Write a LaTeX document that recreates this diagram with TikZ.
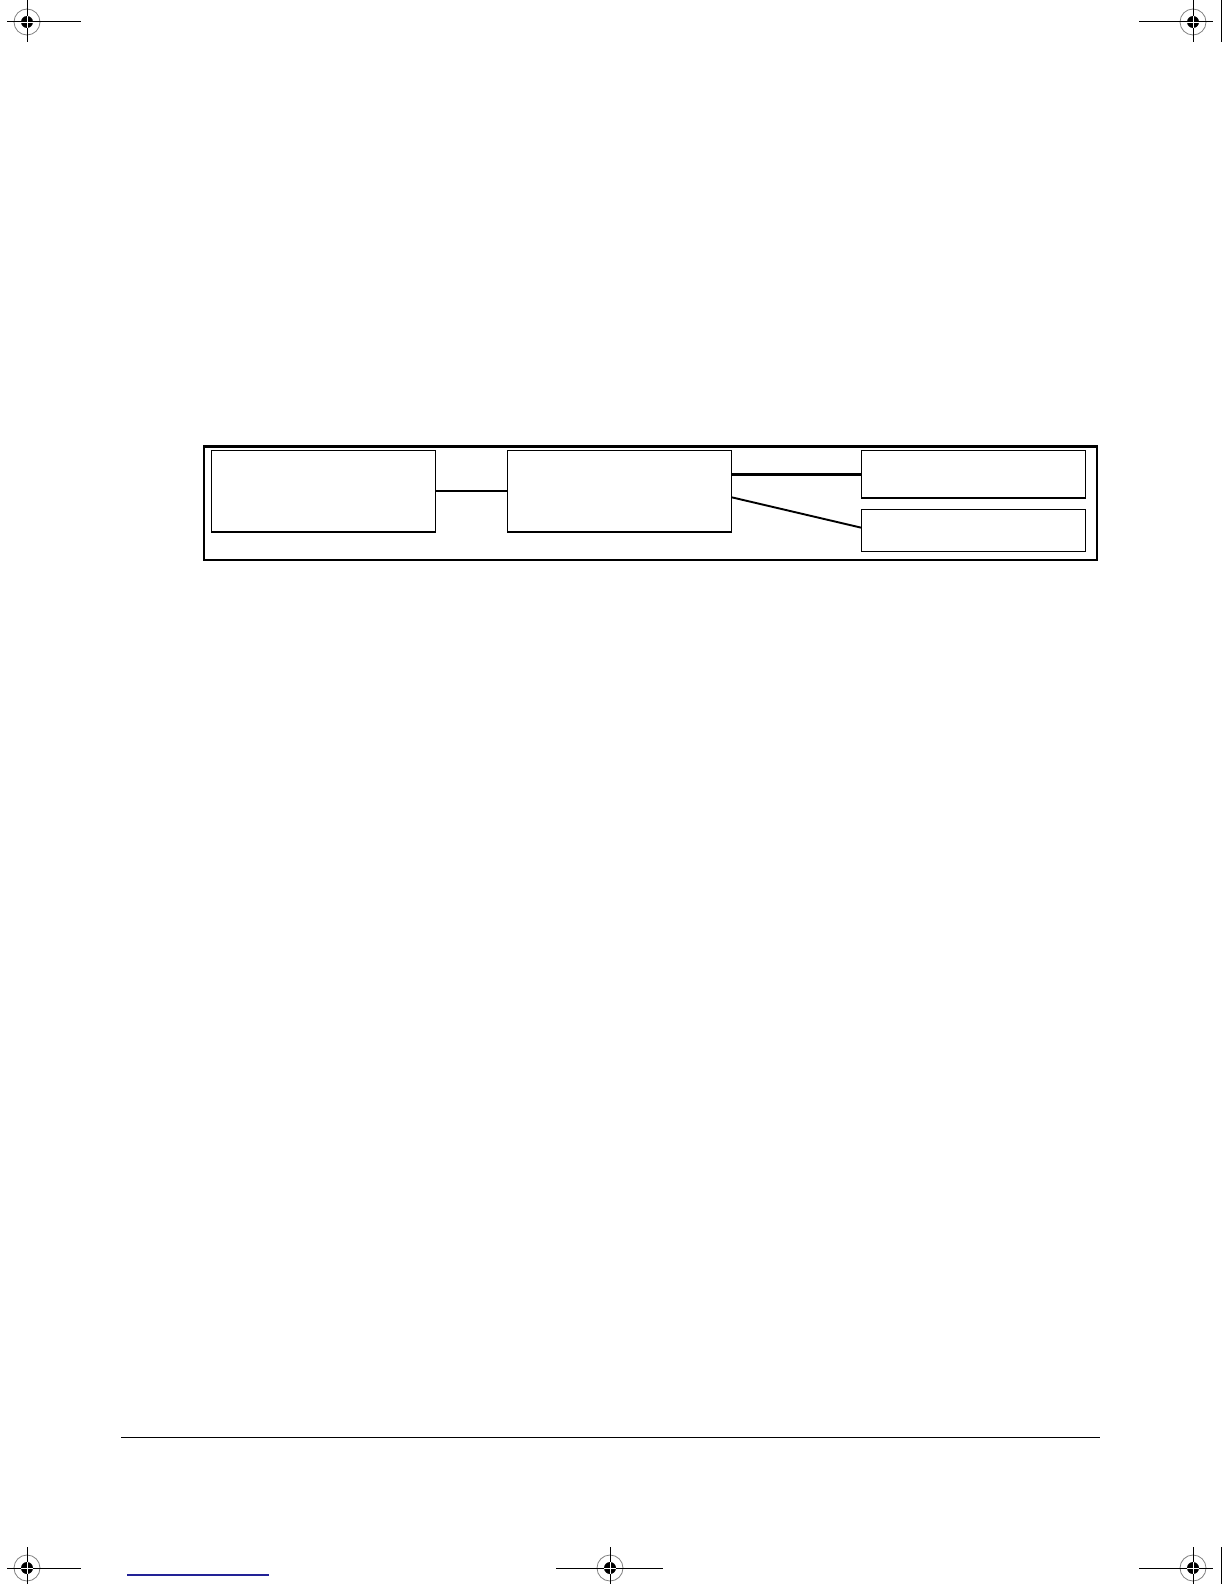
\documentclass[tikz,border=0pt]{standalone}
\usepackage{tikz}
\usetikzlibrary{positioning}
\definecolor{linkblue}{RGB}{34,34,150}

\begin{document}
\begin{tikzpicture}[x=0.5pt,y=-0.5pt,node distance=5pt,
    blk/.style={draw,line width=0.55pt,inner sep=0pt,outer sep=0pt,minimum width=112.3pt},
    tallblk/.style={blk,minimum height=40.65pt},
    link/.style={line width=0.95pt},
    frame/.style={line width=1.1pt},
    hair/.style={line width=0.5pt}]
            \useasboundingbox (0,0) rectangle (1224,1584);
            % registration marks
            \foreach \cx/\cy/\xa/\xb/\ya/\yb in {27/22/-20/54/-22/20, 1193/22/-54/20/-22/20,
                27/1568/-20/54/-21/16, 610/1568/-54/53/-21/16, 1193/1568/-54/20/-21/16} {
                \draw[gray,line width=0.4pt] (\cx,\cy) circle (6.5pt);
                \fill (\cx,\cy) circle (3pt);
                \draw[hair] (\cx+\xa,\cy) -- (\cx+\xb,\cy);
                \draw[hair] (\cx,\cy+\ya) -- (\cx,\cy+\yb);
                \draw[white,line width=0.4pt] (\cx-6,\cy) -- (\cx+6,\cy) (\cx,\cy-6) -- (\cx,\cy+6);
            }
            \draw[hair] (1221,0) -- (1221,42);
            \draw[hair] (1221,1547) -- (1221,1584);
            % diagram
            \draw[frame] (204,446.5) rectangle (1097,560);
            \node[tallblk,anchor=north west] (boxA) at (211.3,450.7) {};
            \node[tallblk,minimum width=112.3pt] (boxB) [right=35.7pt of boxA] {};
            \node[blk,minimum height=23.65pt] (boxC) [right=64.7pt of boxB.north east,anchor=north west] {};
            \node[blk,minimum height=21pt] (boxD) [below=5.65pt of boxC] {};
            \draw[link] (boxA.east) -- (boxB.west);
            \draw[link,line width=1.5pt] (boxB.east |- boxC.west) -- (boxC.west);
            \draw[link] ([yshift=-3pt]boxB.east) -- ([yshift=1.3pt]boxD.west);
            % footer
            \draw[hair] (121,1437.3) -- (1100,1437.3);
            \draw[linkblue,line width=0.6pt] (127,1575) -- (269,1575);
        \end{tikzpicture}
\end{document}
